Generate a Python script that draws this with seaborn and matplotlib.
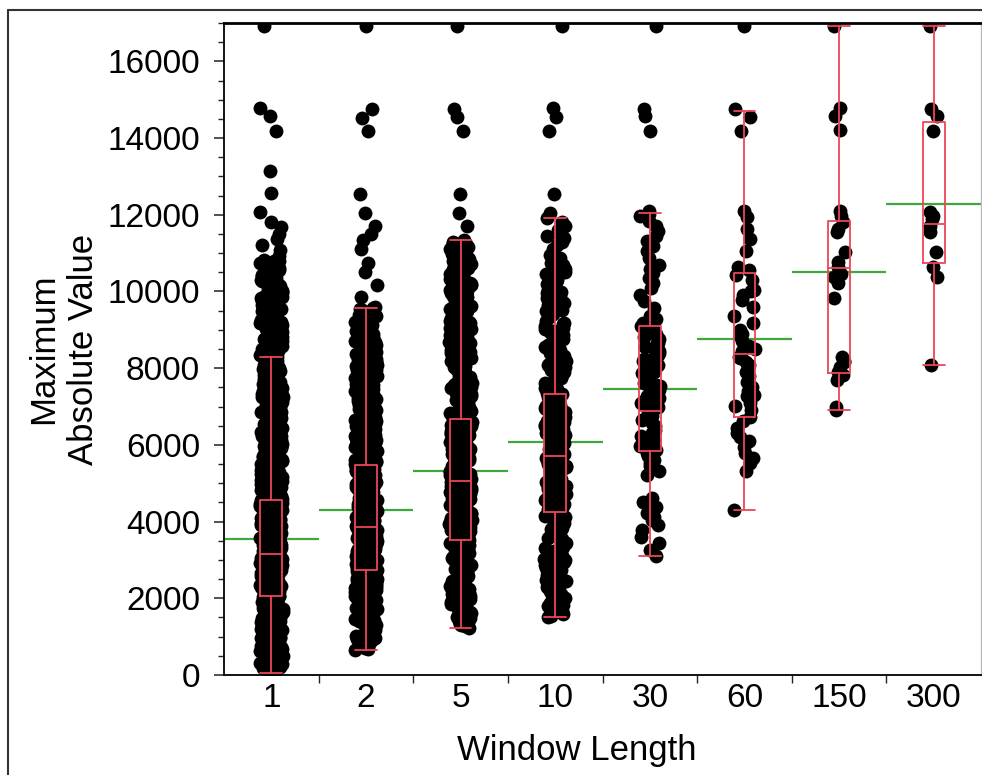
import numpy as np
import pandas as pd
import matplotlib
matplotlib.use("Agg")
import matplotlib.pyplot as plt
from matplotlib.ticker import MultipleLocator, FixedLocator
from matplotlib.lines import Line2D
import seaborn as sns

# ---------------- data ----------------
window_labels = ["1", "2", "5", "10", "30", "60", "150", "300"]

vals_w1 = [16910, 14780, 14580, 14190, 13140, 12560, 12060, 11800, 11670, 11490, 11360, 11210, 11080, 10930,
           10820, 10800, 10740, 10720, 10690, 10630, 10600, 10570, 10510, 10490, 10440, 10410, 10360, 10320, 10300, 10240,
           10210, 10180, 10120, 10090, 10050, 10010, 9970, 9940, 9880, 9860, 9820, 9770, 9750, 9700, 9660, 9620, 9590, 9540,
           9510, 9470, 9430, 9380, 9360, 9310, 9270, 9250, 9190, 9160, 9120, 9080, 9050, 9000, 8970, 8920, 8900, 8840,
           8810, 8780, 8730, 8700, 8650, 8620, 8580, 8530, 8510, 8460, 8430, 8380, 8350, 8300, 8280, 8230, 8200, 8150,
           8120, 8090, 8040, 8010, 7960, 7930, 7890, 7850, 7820, 7770, 7740, 7690, 7670, 7620, 7580, 7550, 7500, 7470,
           7430, 7390, 7350, 7320, 7270, 7240, 7200, 7160, 7130, 7080, 7050, 7010, 6970, 6930, 6900, 6850, 6820, 6780,
           6750, 6700, 6670, 6630, 6590, 6560, 6510, 6480, 6440, 6410, 6360, 6330, 6290, 6250, 6220, 6170, 6140, 6100,
           6060, 6030, 5980, 5950, 5910, 5880, 5830, 5800, 5760, 5720, 5690, 5640, 5610, 5570, 5540, 5490, 5460, 5420,
           5390, 5340, 5310, 5270, 5230, 5200, 5150, 5120, 5080, 5050, 5000, 4970, 4930, 4900, 4850, 4820, 4780, 4750,
           4700, 4680, 4630, 4600, 4570, 4540, 4510, 4480, 4440, 4420, 4380, 4360, 4320, 4290, 4260, 4240, 4200, 4170,
           4140, 4110, 4080, 4060, 4020, 3990, 3960, 3940, 3900, 3870, 3840, 3820, 3780, 3750, 3730, 3690, 3660, 3640,
           3610, 3570, 3550, 3520, 3480, 3460, 3430, 3400, 3370, 3340, 3310, 3280, 3250, 3220, 3190, 3160, 3140, 3110,
           3080, 3050, 3020, 2990, 2960, 2930, 2900, 2880, 2850, 2820, 2790, 2760, 2730, 2710, 2680, 2650, 2620, 2590,
           2560, 2540, 2510, 2480, 2450, 2420, 2390, 2370, 2340, 2310, 2280, 2250, 2220, 2200, 2170, 2140, 2110, 2080,
           2050, 2030, 2000, 1970, 1940, 1910, 1880, 1860, 1830, 1800, 1770, 1740, 1710, 1690, 1660, 1630, 1600, 1570,
           1540, 1510, 1490, 1460, 1430, 1400, 1370, 1340, 1310, 1290, 1260, 1230, 1200, 1170, 1140, 1110, 1090, 1060,
           1030, 1000, 970, 940, 910, 880, 850, 820, 790, 750, 720, 690, 650, 620, 580, 550, 510, 480, 440, 390,
           350, 300, 260, 210, 170, 120, 60,
           10795, 10755, 10705, 10655, 10615, 10545, 10465, 10385, 10345, 10265, 10195, 10145, 10065, 10025, 9955, 9905,
           9845, 9795, 9725, 9685, 9635, 9565, 9525, 9485, 9445, 9405, 9335, 9285, 9215, 9175, 9135, 9065, 9025, 8985,
           8935, 8875, 8825, 8755, 8715, 8675, 8605, 8565, 8495, 8445, 8405, 8325, 8265, 8215, 8175, 8105, 8065, 8025,
           7975, 7905, 7865, 7795, 7755, 7705, 7645, 7595, 7525, 7485, 7415, 7365, 7305, 7255, 7215, 7145, 7095, 7025,
           6985, 6915, 6865, 6795, 6765, 6715, 6645, 6605, 6535, 6495, 6425, 6385, 6345, 6265, 6235, 6185, 6115, 6075,
           6015, 5965, 5925, 5865, 5815, 5775, 5705, 5655, 5595, 5555, 5505, 5435, 5405, 5355, 5285, 5245, 5185, 5135,
           5095, 5025, 4985, 4945, 4875, 4835, 4795, 4735, 4695, 4645, 4585, 4555, 4525, 4495, 4455, 4405, 4375, 4335,
           4305, 4275, 4215, 4185, 4155, 4125, 4095, 4035, 4005, 3975, 3915, 3885, 3855, 3805, 3765, 3715, 3675, 3625,
           3585, 3535, 3495, 3445, 3415, 3385, 3355, 3295, 3265, 3235, 3205, 3175, 3125, 3095, 3065, 3035, 3005, 2975,
           2945, 2915, 2865, 2835, 2805, 2775, 2745, 2695, 2665, 2635, 2605, 2575, 2525, 2495, 2465, 2435, 2405, 2355,
           2325, 2295, 2265, 2235, 2185, 2155, 2125, 2095, 2065, 2015, 1985, 1955, 1925, 1895, 1845, 1815, 1785, 1755,
           1725, 1675, 1645, 1615, 1585, 1555, 1525, 1475, 1445, 1415, 1385, 1355, 1325, 1275, 1245, 1215, 1185, 1155,
           1125, 1075, 1045, 1015, 985, 955, 925, 895, 865, 835, 805, 765, 735, 705, 665, 635, 595, 565, 525, 495,
           455, 415, 365, 325, 275, 235, 185, 145, 95]

vals_w2 = [16910, 14750, 14530, 14190, 12540, 12050, 11720, 11500, 11330, 11110, 10730, 10510, 10180, 9850,
           9590, 9540, 9490, 9420, 9380, 9330, 9270, 9230, 9170, 9120, 9080, 9020, 8970, 8930, 8870, 8820, 8780, 8720,
           8680, 8630, 8570, 8530, 8480, 8420, 8380, 8330, 8280, 8230, 8180, 8130, 8090, 8040, 7980, 7940, 7890, 7840,
           7790, 7740, 7700, 7650, 7600, 7550, 7510, 7460, 7410, 7360, 7320, 7270, 7220, 7170, 7130, 7080, 7030, 6990,
           6940, 6890, 6850, 6800, 6760, 6710, 6660, 6620, 6570, 6530, 6480, 6440, 6390, 6350, 6300, 6260, 6210, 6170,
           6120, 6080, 6040, 5990, 5950, 5910, 5860, 5820, 5780, 5740, 5700, 5650, 5610, 5570, 5530, 5490, 5450, 5420,
           5380, 5340, 5310, 5270, 5240, 5200, 5170, 5130, 5100, 5060, 5030, 4990, 4960, 4930, 4890, 4860, 4830, 4800,
           4760, 4730, 4700, 4670, 4640, 4610, 4580, 4550, 4520, 4490, 4460, 4430, 4400, 4370, 4340, 4310, 4280, 4250,
           4220, 4190, 4160, 4130, 4100, 4070, 4040, 4010, 3980, 3950, 3920, 3890, 3860, 3830, 3800, 3770, 3740, 3710,
           3680, 3650, 3620, 3590, 3560, 3530, 3500, 3470, 3440, 3410, 3380, 3350, 3320, 3290, 3260, 3230, 3200, 3170,
           3140, 3110, 3080, 3050, 3020, 2990, 2960, 2930, 2900, 2870, 2840, 2810, 2780, 2750, 2720, 2690, 2650, 2610,
           2570, 2530, 2490, 2450, 2410, 2370, 2330, 2290, 2250, 2210, 2170, 2130, 2090, 2050, 2000, 1960, 1910, 1870,
           1820, 1780, 1730, 1690, 1640, 1600, 1550, 1500, 1450, 1400, 1350, 1300, 1250, 1200, 1140, 1080, 1020, 960,
           900, 840, 780, 710, 650,
           9565, 9505, 9455, 9405, 9355, 9295, 9245, 9195, 9145, 9095, 9045, 8995, 8945, 8895, 8845, 8795, 8745, 8695,
           8645, 8595, 8545, 8495, 8445, 8395, 8345, 8295, 8245, 8195, 8145, 8105, 8055, 7995, 7955, 7905, 7855, 7805,
           7755, 7715, 7665, 7615, 7565, 7525, 7475, 7425, 7375, 7335, 7285, 7235, 7185, 7145, 7095, 7045, 7005, 6955,
           6905, 6865, 6815, 6775, 6725, 6675, 6635, 6585, 6545, 6495, 6455, 6405, 6365, 6315, 6275, 6225, 6185, 6135,
           6095, 6055, 6005, 5965, 5925, 5875, 5835, 5795, 5755, 5715, 5665, 5625, 5585, 5545, 5505, 5465, 5435, 5395,
           5355, 5325, 5285, 5255, 5215, 5185, 5145, 5115, 5075, 5045, 5005, 4975, 4945, 4905, 4875, 4845, 4815, 4775,
           4745, 4715, 4685, 4655, 4625, 4595, 4565, 4535, 4505, 4475, 4445, 4415, 4385, 4355, 4325, 4295, 4265, 4235,
           4205, 4175, 4145, 4115, 4085, 4055, 4025, 3995, 3965, 3935, 3905, 3875, 3845, 3815, 3785, 3755, 3725, 3695,
           3665, 3635, 3605, 3575, 3545, 3515, 3485, 3455, 3425, 3395, 3365, 3335, 3305, 3275, 3245, 3215, 3185, 3155,
           3125, 3095, 3065, 3035, 3005, 2975, 2945, 2915, 2885, 2855, 2825, 2795, 2765, 2735, 2705, 2670, 2630, 2590,
           2550, 2510, 2470, 2430, 2390, 2350, 2310, 2270, 2230, 2190, 2150, 2110, 2070, 2025, 1985, 1935, 1895, 1845,
           1805, 1755, 1715, 1665, 1625, 1575, 1525, 1475, 1425, 1375, 1325, 1275, 1225, 1170, 1110, 1050, 990, 930,
           870, 810, 745, 680]

vals_w3 = [16910, 14750, 14550, 14190, 12540, 12050, 11720, 11330, 11260, 11190, 11120, 11060, 10970, 10900, 10850, 10760,
           10690, 10620, 10560, 10500, 10440, 10400, 10320, 10230, 10170, 10120, 10070, 10010, 9960, 9900, 9850, 9780,
           9730, 9690, 9610, 9560, 9520, 9460, 9400, 9340, 9290, 9230, 9190, 9120, 9050, 8990, 8930, 8860, 8800, 8740,
           8690, 8630, 8570, 8530, 8460, 8400, 8340, 8270, 8200, 8150, 8080, 8020, 7950, 7900, 7870, 7800, 7760, 7690,
           7640, 7590, 7540, 7480, 7420, 7370, 7320, 7260, 7210, 7160, 7090, 7040, 6990, 6940, 6880, 6830, 6780, 6730,
           6680, 6640, 6590, 6540, 6490, 6450, 6400, 6350, 6300, 6260, 6210, 6160, 6110, 6070, 6020, 5970, 5920, 5880,
           5830, 5780, 5730, 5690, 5640, 5590, 5540, 5500, 5450, 5400, 5350, 5310, 5260, 5210, 5160, 5120, 5070, 5020,
           4980, 4930, 4880, 4840, 4790, 4740, 4700, 4650, 4600, 4560, 4510, 4460, 4420, 4370, 4320, 4280, 4230, 4180,
           4140, 4090, 4040, 4000, 3950, 3900, 3860, 3810, 3760, 3720, 3670, 3620, 3580, 3530, 3470, 3420, 3360, 3300,
           3250, 3190, 3130, 3070, 3020, 2960, 2900, 2840, 2790, 2730, 2670, 2610, 2560, 2500, 2440, 2380, 2330, 2270,
           2210, 2150, 2100, 2040, 1980, 1920, 1870, 1810, 1750, 1700, 1650, 1610, 1550, 1480, 1420, 1360, 1300, 1230,
           11295, 11225, 11155, 11085, 11015, 10935, 10875, 10805, 10725, 10655, 10595, 10535, 10465, 10365, 10275, 10195,
           10145, 10095, 10035, 9985, 9925, 9875, 9815, 9755, 9705, 9645, 9585, 9535, 9485, 9425, 9365, 9315, 9255, 9205,
           9155, 9085, 9015, 8955, 8895, 8825, 8765, 8715, 8655, 8595, 8545, 8485, 8425, 8365, 8305, 8235, 8175, 8115,
           8045, 7985, 7925, 7835, 7775, 7725, 7665, 7615, 7565, 7505, 7445, 7395, 7345, 7285, 7235, 7185, 7125, 7065,
           7015, 6965, 6915, 6855, 6805, 6755, 6705, 6655, 6615, 6565, 6515, 6465, 6425, 6375, 6325, 6275, 6235, 6185,
           6135, 6085, 6045, 5995, 5945, 5895, 5855, 5805, 5755, 5705, 5665, 5615, 5565, 5515, 5475, 5425, 5375, 5325,
           5285, 5235, 5185, 5135, 5095, 5045, 4995, 4955, 4905, 4855, 4815, 4765, 4715, 4675, 4625, 4575, 4535, 4485,
           4435, 4395, 4345, 4295, 4255, 4205, 4155, 4115, 4065, 4015, 3975, 3925, 3875, 3835, 3785, 3735, 3695, 3645,
           3595, 3555, 3500, 3445, 3390, 3330, 3275, 3220, 3160, 3100, 3045, 2990, 2930, 2870, 2815, 2760, 2700, 2640,
           2585, 2530, 2470, 2410, 2355, 2300, 2240, 2180, 2125, 2070, 2010, 1950, 1895, 1840, 1780, 1725, 1675, 1630,
           1580, 1515, 1450, 1390, 1330, 1265]

vals_w4 = [16910, 14790, 14550, 14190, 12540, 12050, 11920, 11800, 11610, 11500, 11390, 11280, 11120, 10950, 10820, 10680,
           10590, 10510, 10400, 10290, 10190, 10100, 9990, 9900, 9820, 9740, 9650, 9560, 9480, 9410, 9300, 9190, 9100,
           9020, 8940, 8860, 8750, 8640, 8560, 8470, 8390, 8310, 8230, 8150, 8070, 7990, 7900, 7820, 7740, 7650, 7570,
           7490, 7410, 7320, 7260, 7200, 7140, 7080, 7020, 6960, 6900, 6840, 6780, 6720, 6660, 6600, 6540, 6480, 6420,
           6360, 6300, 6240, 6180, 6120, 6060, 6000, 5940, 5880, 5820, 5760, 5700, 5640, 5580, 5520, 5460, 5400, 5340,
           5280, 5220, 5160, 5100, 5040, 4980, 4920, 4860, 4800, 4740, 4680, 4620, 4560, 4500, 4440, 4380, 4320, 4230,
           4150, 4080, 4000, 3920, 3840, 3760, 3690, 3620, 3550, 3480, 3390, 3310, 3230, 3150, 3070, 2990, 2910, 2820,
           2740, 2660, 2580, 2490, 2410, 2330, 2250, 2160, 2080, 2000, 1920, 1830, 1750, 1670, 1590, 1500,
           11700, 11450, 11200, 11030, 10880, 10750, 10630, 10550, 10450, 10340, 10240, 10140, 10040, 9950, 9860, 9780,
           9700, 9600, 9520, 9440, 9350, 9240, 9140, 9060, 8980, 8900, 8800, 8700, 8600, 8510, 8430, 8350, 8270, 8190,
           8110, 8030, 7950, 7860, 7780, 7700, 7610, 7530, 7450, 7360, 7290, 7230, 7170, 7110, 7050, 6990, 6930, 6870,
           6810, 6750, 6690, 6630, 6570, 6510, 6450, 6390, 6330, 6270, 6210, 6150, 6090, 6030, 5970, 5910, 5850, 5790,
           5730, 5670, 5610, 5550, 5490, 5430, 5370, 5310, 5250, 5190, 5130, 5070, 5010, 4950, 4890, 4830, 4770, 4710,
           4650, 4590, 4530, 4470, 4410, 4350, 4270, 4190, 4110, 4040, 3960, 3880, 3800, 3720, 3650, 3580, 3510, 3430,
           3350, 3270, 3190, 3110, 3030, 2950, 2860, 2780, 2700, 2620, 2530, 2450, 2370, 2290, 2200, 2120, 2040, 1960,
           1870, 1790, 1710, 1630, 1550]

vals_w5 = [16910, 14750, 14570, 14190, 12100, 12010, 11970, 11830, 11700, 11570, 11440, 11310, 11180, 11050, 10880, 10700,
           10590, 10490, 10360, 10230, 10080, 9920, 9750, 9560, 9360, 9280, 9190, 9090, 9040, 8980, 8930, 8880, 8820, 8750,
           8700, 8660, 8610, 8560, 8490, 8450, 8400, 8350, 8310, 8230, 8180, 8140, 8090, 8050, 7960, 7910, 7870, 7790,
           7740, 7700, 7610, 7570, 7540, 7480, 7430, 7380, 7270, 7220, 7180, 7090, 7040, 7000, 6980, 6930, 6880, 6840,
           6760, 6710, 6660, 6570, 6480, 6400, 6310, 6220, 6140, 6050, 5960, 5900, 5870, 5790, 5700, 5610, 5530, 5440,
           5330, 5220, 4620, 4500, 4390, 4220, 4130, 4050, 3900, 3790, 3610, 3440, 3260, 3100]

vals_w6 = [16910, 14750, 14540, 14180, 12090, 11930, 11620, 11360, 11050, 10650, 10550, 10440, 10300, 10050, 10000,
           9900, 9790, 9600, 9350, 9190, 9000, 8900, 8830, 8700, 8570, 8500, 8450, 8280, 8270, 8150, 8090, 8040, 7900,
           7790, 7650, 7520, 7400, 7310, 7270, 7100, 7010, 6900, 6740, 6610, 6450, 6300, 6200, 6090, 5950, 5790, 5650,
           5530, 5310, 4310]

vals_w7 = [16910, 14780, 14570, 14200, 12090, 11960, 11800, 11620, 11540, 11040, 10760, 10630, 10500, 10450,
           10370, 10230, 9840, 8300, 8200, 8170, 8040, 7900, 7830, 7700, 7000, 6920]

vals_w8 = [16910, 14750, 14570, 14180, 12070, 11960, 11880, 11700, 11540, 11040, 10650, 10370, 8080]

mean_values = [3550, 4310, 5330, 6080, 7450, 8750, 10520, 12270]
box_q1 = [2070, 2740, 3530, 4240, 5830, 6740, 7880, 10740]
box_median = [3150, 3860, 5070, 5700, 6880, 8380, 10600, 11750]
box_q3 = [4560, 5480, 6680, 7320, 9090, 10490, 11830, 14430]
whisker_low = [60, 650, 1220, 1500, 3100, 4310, 6900, 8080]
whisker_high = [8280, 9580, 11330, 11920, 12040, 14700, 16910, 16910]

y_ticks = [0, 2000, 4000, 6000, 8000, 10000, 12000, 14000, 16000]

# ---------------- styling ----------------
RED = "#EC4558"
GREEN = "#3EA83E"

sns.set_theme(style="ticks")
plt.rcParams["font.family"] = ["Liberation Sans", "DejaVu Sans"]

series = [vals_w1, vals_w2, vals_w3, vals_w4, vals_w5, vals_w6, vals_w7, vals_w8]
df = pd.DataFrame({
    "Window Length": np.repeat(window_labels, [len(s) for s in series]),
    "value": np.concatenate([np.asarray(s, dtype=float) for s in series]),
})

W, H = 982, 775
fig = plt.figure(figsize=(W / 100, H / 100), dpi=100)
ax = fig.add_axes([224 / W, 1 - 675 / H, 757 / W, 652 / H])

# mean lines (green) spanning each category
for i, m in enumerate(mean_values):
    ax.hlines(m, i - 0.5, i + 0.5, color=GREEN, lw=1.6, zorder=1)

# jittered points
np.random.seed(11)
jitters = [0.12, 0.12, 0.12, 0.115, 0.11, 0.11, 0.065, 0.045]
for lab, j in zip(window_labels, jitters):
    sns.stripplot(data=df[df["Window Length"] == lab], x="Window Length", y="value",
                  order=window_labels, jitter=j, color="black", size=10,
                  linewidth=0, ax=ax, zorder=2)

# box plots (red outline)
stats = [dict(med=md, q1=a, q3=b, whislo=lo, whishi=hi, fliers=[])
         for md, a, b, lo, hi in zip(box_median, box_q1, box_q3, whisker_low, whisker_high)]
lp = dict(color=RED, lw=1.3)
ax.bxp(stats, positions=list(range(len(window_labels))), widths=0.23, capwidths=0.23,
       showfliers=False, boxprops=lp, whiskerprops=lp, capprops=lp, medianprops=lp,
       manage_ticks=False, zorder=3)

# axes
ax.set_xlim(-0.5, len(window_labels) - 0.5)
ax.set_ylim(0, 17000)
ax.set_yticks(y_ticks)
ax.set_yticklabels([str(t) for t in y_ticks])
ax.yaxis.set_minor_locator(MultipleLocator(500))
ax.set_xticks(range(len(window_labels)))
ax.set_xticklabels(window_labels)
ax.xaxis.set_minor_locator(FixedLocator([i + 0.5 for i in range(len(window_labels) - 1)]))

ax.tick_params(axis="y", which="major", length=7.2, width=1.1, color="#222222",
               labelsize=24, pad=10, direction="out", labelcolor="black")
ax.tick_params(axis="y", which="minor", length=4.3, width=1.0, color="#222222", direction="out")
ax.tick_params(axis="x", which="major", length=0, labelsize=24, pad=6, labelcolor="black")
ax.tick_params(axis="x", which="minor", length=5.5, width=1.0, color="#222222", direction="out")

ax.set_xlabel("Window Length", fontsize=25, color="black")
ax.set_ylabel("Maximum\nAbsolute Value", fontsize=25, color="black", linespacing=1.25)
ax.xaxis.set_label_coords(0.466, -0.09)
ax.yaxis.set_label_coords(-0.164, 0.5)

for side in ["left", "bottom", "top"]:
    ax.spines[side].set_color("black")
    ax.spines[side].set_linewidth(1.3)
ax.spines["top"].set_linewidth(2.0)
ax.spines["right"].set_color("#bbbbbb")
ax.spines["right"].set_linewidth(1.0)

# outer frame
fig.add_artist(Line2D([8 / W, 1.0], [1 - 10 / H, 1 - 10 / H], transform=fig.transFigure,
                      color="#333333", lw=1.5))
fig.add_artist(Line2D([8 / W, 8 / W], [0.0, 1 - 10 / H], transform=fig.transFigure,
                      color="#333333", lw=1.5))

fig.savefig("out.png", dpi=100, facecolor="white")
